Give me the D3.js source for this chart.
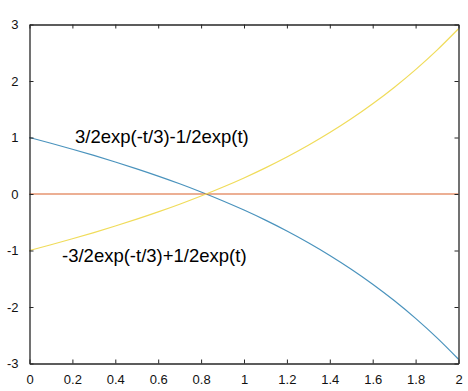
<!DOCTYPE html>
<html><head><meta charset="utf-8">
<script src="https://cdn.jsdelivr.net/npm/d3@7/dist/d3.min.js"></script>
<style>html,body{margin:0;padding:0;background:#fff;}svg{display:block;}</style>
</head><body>
<svg id="chart" width="468" height="391"></svg>
<script>
const tValues = [0,0.1,0.2,0.3,0.4,0.5,0.6,0.7,0.8,0.9,1.0,1.1,1.2,1.3,1.4,1.5,1.6,1.7,1.8,1.9,2.0];
const blueValues = [1.0,0.8982,0.7926,0.6823,0.5668,0.4454,0.3170,0.1810,0.0361,-0.1186,-0.2843,-0.4625,-0.6546,-0.8621,-1.0870,-1.3310,-1.5965,-1.8859,-2.2016,-2.5467,-2.9244];
const zeroValues = [0,0,0,0,0,0,0,0,0,0,0,0,0,0,0,0,0,0,0,0,0];
const yellowValues = [-1.0,-0.8982,-0.7926,-0.6823,-0.5668,-0.4454,-0.3170,-0.1810,-0.0361,0.1186,0.2843,0.4625,0.6546,0.8621,1.0870,1.3310,1.5965,1.8859,2.2016,2.5467,2.9244];
const xTicks = [0,0.2,0.4,0.6,0.8,1,1.2,1.4,1.6,1.8,2];
const yTicks = [-3,-2,-1,0,1,2,3];
const labels = ["3/2exp(-t/3)-1/2exp(t)", "-3/2exp(-t/3)+1/2exp(t)"];

const svg = d3.select("#chart");
const L = 29.5, R = 458.5, T = 24.5, B = 363.5;
const x = d3.scaleLinear().domain([0,2]).range([L,R]);
const y = d3.scaleLinear().domain([-3,3]).range([B,T]);
const axisColor = "#262626";
const font = "Liberation Sans, Arial, sans-serif";
const fmt = d => String(d);

const line = vals => d3.line().x((d,i)=>x(tValues[i])).y(d=>y(d)).curve(d3.curveMonotoneX)(vals);
const series = [[blueValues,"#4a93bd"],[zeroValues,"#d9602a"],[yellowValues,"#f0dc5a"]];
series.forEach(([v,c])=>{
  svg.append("path").attr("d",line(v)).attr("fill","none").attr("stroke",c).attr("stroke-width",1.2);
});

const gBottom = svg.append("g").attr("transform",`translate(0,${B})`)
  .call(d3.axisBottom(x).tickValues(xTicks).tickSizeInner(-4).tickSizeOuter(0).tickPadding(11).tickFormat(fmt));
const gTop = svg.append("g").attr("transform",`translate(0,${T})`)
  .call(d3.axisTop(x).tickValues(xTicks).tickSizeInner(-4).tickSizeOuter(0).tickFormat(""));
const gLeft = svg.append("g").attr("transform",`translate(${L},0)`)
  .call(d3.axisLeft(y).tickValues(yTicks).tickSizeInner(-4).tickSizeOuter(0).tickPadding(11).tickFormat(fmt));
const gRight = svg.append("g").attr("transform",`translate(${R},0)`)
  .call(d3.axisRight(y).tickValues(yTicks).tickSizeInner(-4).tickSizeOuter(0).tickFormat(""));
[gBottom,gTop,gLeft,gRight].forEach(g=>{
  g.select(".domain").attr("stroke",axisColor).attr("stroke-width",1.3);
  g.selectAll(".tick line").attr("stroke",axisColor);
  g.selectAll("text").attr("fill","#111").style("font-family",font).style("font-size","13px");
});

svg.append("text").attr("x",75).attr("y",143).text(labels[0])
  .style("font-family",font).style("font-size","18.5px").attr("fill","#000");
svg.append("text").attr("x",62).attr("y",262).text(labels[1])
  .style("font-family",font).style("font-size","18.5px").attr("fill","#000");
</script>
</body></html>
